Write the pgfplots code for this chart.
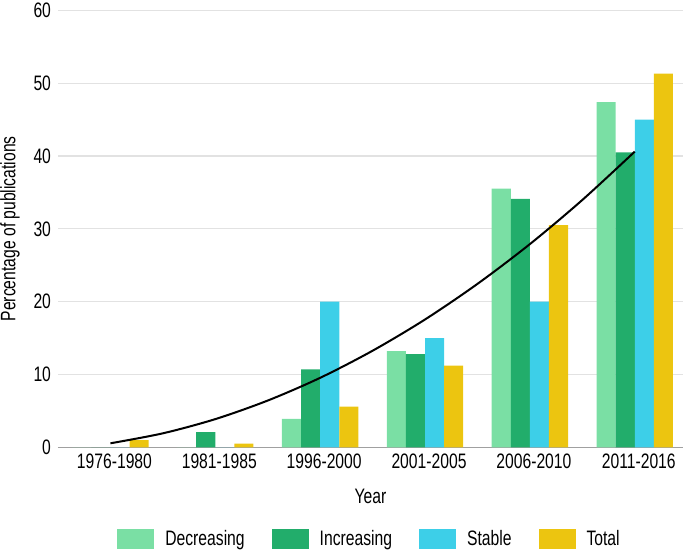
\documentclass[border=0pt]{standalone}
\usepackage{fontspec}
\setmainfont{Liberation Sans}[FakeStretch=0.75]
\usepackage{pgfplots}
\pgfplotsset{compat=1.18}
\definecolor{decr}{HTML}{7ADFA4}
\definecolor{incr}{HTML}{22AD6B}
\definecolor{stab}{HTML}{3DCFE8}
\definecolor{totl}{HTML}{ECC510}
\definecolor{gridgray}{HTML}{E2E2E2}
\definecolor{axgray}{HTML}{A0A0A0}

\begin{document}
\begin{tikzpicture}
	\begin{axis}[
			name=ax,
			scale only axis,
			width=312.5bp,
			height=218.5bp,
			xmin=-0.5, xmax=5.46,
			ymin=0, ymax=60,
			ytick={0,10,20,30,40,50,60},
			xtick={0,1,2,3,4,5},
			xticklabels={1976-1980,1981-1985,1996-2000,2001-2005,2006-2010,2011-2016},
			xticklabel style={xshift=2bp},
			axis x line*=bottom,
			axis y line*=left,
			x axis line style={axgray, line width=0.8bp},
			y axis line style={draw=none},
			tick style={draw=none},
			ymajorgrids=true,
			grid style={gridgray, line width=0.6bp},
			/pgf/number format/assume math mode=true,
			tick label style={font=\fontsize{10.5}{12}\selectfont},
			label style={font=\fontsize{10.5}{12}\selectfont},
			xlabel={Year},
			ylabel={Percentage of publications},
			xlabel style={at={(axis description cs:0.5,-0.1115)}, anchor=center},
			ylabel style={at={(axis description cs:-0.0768,0.5)}, anchor=center},
			legend columns=4,
			legend style={
				at={(axis description cs:0.5,-0.2098)}, anchor=center,
				draw=none, font=\fontsize{10.5}{12}\selectfont,
				/tikz/every odd column/.append style={column sep=3.5bp},
				/tikz/every even column/.append style={column sep=11.5bp},
			},
			legend image code/.code={\fill[#1] (0bp,-5bp) rectangle (18.5bp,5bp);},
		]
		\addplot[ybar, bar width=0.182, bar shift=-0.273, fill=decr, draw=none] coordinates {
			(0,0) (1,0) (2,3.9) (3,13.2) (4,35.5) (5,47.4)
		};
		\addplot[ybar, bar width=0.182, bar shift=-0.091, fill=incr, draw=none] coordinates {
			(0,0) (1,2.1) (2,10.7) (3,12.8) (4,34.1) (5,40.5)
		};
		\addplot[ybar, bar width=0.182, bar shift=0.091, fill=stab, draw=none] coordinates {
			(0,0) (1,0) (2,20.0) (3,15.0) (4,20.0) (5,45.0)
		};
		\addplot[ybar, bar width=0.182, bar shift=0.273, fill=totl, draw=none] coordinates {
			(0,1.0) (1,0.5) (2,5.6) (3,11.2) (4,30.5) (5,51.3)
		};
		% trend curve
		\addplot[black, line width=1bp, smooth, forget plot] coordinates {
			(0,0.55) (0.5,1.92) (1,3.87) (1.5,6.42) (2,9.54) (2.5,13.26)
			(3,17.55) (3.5,22.44) (4,27.9) (4.5,33.96) (5,40.6)
		};
		\legend{Decreasing,Increasing,Stable,Total}
	\end{axis}
	\pgfresetboundingbox
	\path[use as bounding box] ([xshift=-29bp,yshift=-51.85bp]ax.south west)
		rectangle ([xshift=313.5bp,yshift=223.65bp]ax.south west);
\end{tikzpicture}
\end{document}
